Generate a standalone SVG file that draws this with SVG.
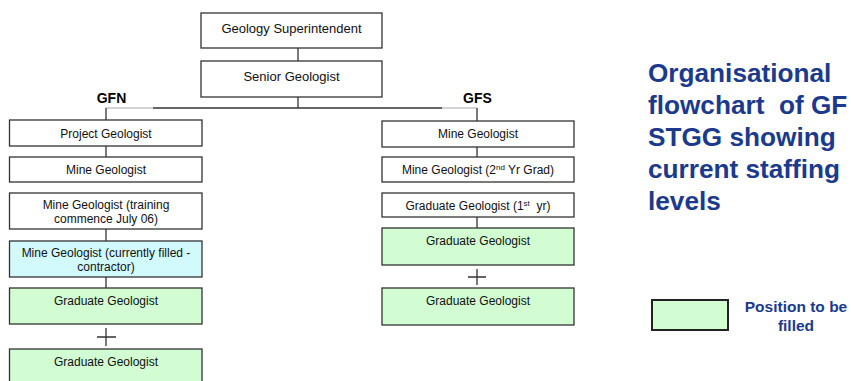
<svg xmlns="http://www.w3.org/2000/svg" width="851" height="381" viewBox="0 0 851 381">
<style>
  .box { fill: #ffffff; stroke: #333333; stroke-width: 1.3; }
  .green { fill: #d2fcd2; stroke: #333333; stroke-width: 1.3; }
  .cyan { fill: #d2fafc; stroke: #333333; stroke-width: 1.3; }
  .t { font-family: "Liberation Sans", Arial, sans-serif; font-size: 12px; fill: #111111; text-anchor: middle; }
  .t13 { font-size: 13px; }
  .lab { font-family: "Liberation Sans", Arial, sans-serif; font-size: 14px; font-weight: bold; fill: #000000; text-anchor: middle; }
  .title { font-family: "Liberation Sans", Arial, sans-serif; font-size: 26.2px; font-weight: bold; fill: #1c3a8c; }
  .leg { font-family: "Liberation Sans", Arial, sans-serif; font-size: 15.5px; font-weight: bold; fill: #1c3a8c; text-anchor: middle; }
  .ln { stroke: #333333; stroke-width: 1.3; fill: none; }
  .lt { stroke: #a8a8a8; stroke-width: 1; fill: none; }
</style>
<rect width="851" height="381" fill="#ffffff"/>

<g id="connectors">
  <line class="ln" x1="298" y1="48" x2="298" y2="61"/>
  <line class="ln" x1="298" y1="97" x2="298" y2="108"/>
  <line class="ln" x1="153" y1="108" x2="442" y2="108"/>
  <line class="lt" x1="106" y1="108" x2="153" y2="108"/>
  <line class="lt" x1="442" y1="108" x2="477" y2="108"/>
  <line class="ln" x1="106" y1="108" x2="106" y2="120"/>
  <line class="ln" x1="477" y1="108" x2="477" y2="121"/>
  <line class="ln" x1="106" y1="146" x2="106" y2="157"/>
  <line class="ln" x1="106" y1="229" x2="106" y2="241"/>
  <line class="ln" x1="106" y1="277" x2="106" y2="288"/>
  <line class="ln" x1="477" y1="147" x2="477" y2="157"/>
  <line class="ln" x1="477" y1="217" x2="477" y2="228"/>
  <path class="ln" d="M97 337 H116 M106 328 V346"/>
  <path class="ln" d="M468 277 H486 M477 269 V285"/>
</g>

<g id="labels">
  <text class="lab" x="111.5" y="103">GFN</text>
  <text class="lab" x="477.5" y="103">GFS</text>
</g>

<g id="geology-superintendent">
  <rect class="box" x="201" y="13" width="181" height="35"/>
  <text class="t t13" x="291.5" y="33">Geology Superintendent</text>
</g>
<g id="senior-geologist">
  <rect class="box" x="201" y="61" width="181" height="36"/>
  <text class="t t13" x="291.5" y="81">Senior Geologist</text>
</g>

<g id="project-geologist">
  <rect class="box" x="9.5" y="120" width="192.5" height="26"/>
  <text class="t" x="106" y="137.5">Project Geologist</text>
</g>
<g id="gfn-mine-geologist">
  <rect class="box" x="9.5" y="157" width="192.5" height="25"/>
  <text class="t" x="106" y="174">Mine Geologist</text>
</g>
<g id="gfn-mine-geologist-training">
  <rect class="box" x="9.5" y="193" width="192.5" height="36"/>
  <text class="t" x="106" y="209">Mine Geologist (training</text>
  <text class="t" x="106" y="223">commence July 06)</text>
</g>
<g id="gfn-mine-geologist-contractor">
  <rect class="cyan" x="9.5" y="241" width="192.5" height="36"/>
  <text class="t" x="106" y="257">Mine Geologist (currently filled -</text>
  <text class="t" x="106" y="271">contractor)</text>
</g>
<g id="gfn-graduate-1">
  <rect class="green" x="9.5" y="288" width="192.5" height="36"/>
  <text class="t" x="106" y="305">Graduate Geologist</text>
</g>
<g id="gfn-graduate-2">
  <rect class="green" x="9.5" y="349" width="192.5" height="38"/>
  <text class="t" x="106" y="366">Graduate Geologist</text>
</g>

<g id="gfs-mine-geologist">
  <rect class="box" x="382" y="121" width="192" height="26"/>
  <text class="t" x="478" y="138">Mine Geologist</text>
</g>
<g id="gfs-mine-geologist-2nd">
  <rect class="box" x="382" y="157" width="192" height="25"/>
  <text class="t" x="478" y="174">Mine Geologist (2<tspan font-size="8" dy="-4">nd</tspan><tspan dy="4"> Yr Grad)</tspan></text>
</g>
<g id="gfs-graduate-1st">
  <rect class="box" x="382" y="193" width="192" height="24"/>
  <text class="t" x="478" y="210" xml:space="preserve">Graduate Geologist (1<tspan font-size="8" dy="-4">st</tspan><tspan dy="4">  yr)</tspan></text>
</g>
<g id="gfs-graduate-1">
  <rect class="green" x="382" y="228" width="192" height="37"/>
  <text class="t" x="478" y="245">Graduate Geologist</text>
</g>
<g id="gfs-graduate-2">
  <rect class="green" x="382" y="288" width="192" height="37"/>
  <text class="t" x="478" y="305">Graduate Geologist</text>
</g>

<g id="title">
  <text class="title" x="648" y="82">Organisational</text>
  <text class="title" x="648" y="114" xml:space="preserve">flowchart  of GF</text>
  <text class="title" x="648" y="146">STGG showing</text>
  <text class="title" x="648" y="178">current staffing</text>
  <text class="title" x="648" y="210">levels</text>
</g>

<g id="legend">
  <rect x="652" y="300" width="76" height="30" fill="#d2fcd2" stroke="#222222" stroke-width="2"/>
  <text class="leg" x="796" y="312">Position to be</text>
  <text class="leg" x="796" y="331">filled</text>
</g>
</svg>
